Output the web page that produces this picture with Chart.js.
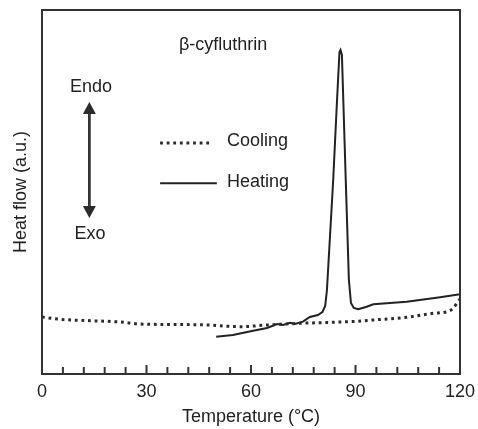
<!DOCTYPE html>
<html>
<head>
<meta charset="utf-8">
<script src="https://cdn.jsdelivr.net/npm/chart.js@4"></script>
<style>
  html, body { margin: 0; padding: 0; background: #fff; }
  #wrap { width: 478px; height: 429px; position: relative; }
</style>
</head>
<body>
<div id="wrap"><canvas id="dsc"></canvas></div>
<script>
// DSC trace of beta-cyfluthrin, heat flow in arbitrary units
const coolingTemp = [0, 5.2, 13.8, 22.4, 28.1, 38, 47.4, 52, 57, 64.6, 74.1, 83.5, 90.4, 95, 104.8, 112.3, 116.3, 118, 119.4, 120];
const coolingFlow = [57, 54.7, 53.3, 52, 50, 49.5, 49, 48, 47.3, 49, 50.7, 51.7, 52.7, 54, 56.7, 60.7, 62.3, 65.7, 72.3, 74.7];

const heatingTemp = [50, 54.8, 60.6, 64.6, 67.5, 69.2, 71.2, 72.6, 74.9, 76.9, 79.2, 80.5, 81.3, 81.8, 83.6, 84.7, 85.4, 85.7, 86.1, 87.2, 88.1, 88.7, 89.5, 90.8, 93.2, 95.1, 104.7, 114.3, 120];
const heatingFlow = [37.3, 39, 43.3, 46, 50, 49, 51.3, 50, 52.3, 57, 59, 62, 68, 84, 194, 274, 322, 324, 319, 194, 94, 71, 66, 64.7, 67.3, 69.7, 72.3, 76.7, 79.7];

const xTicks = [0, 30, 60, 90, 120];
const minorStep = 6;

const FONT = "'Liberation Sans', Arial, sans-serif";
const INK = '#222';

function pairs(xs, ys) {
    return xs.map((x, i) => ({ x: x, y: ys[i] }));
}

// frame, inward tick marks and the in-plot annotations
const decorations = {
    id: 'decorations',
    afterDraw(chart) {
        const ctx = chart.ctx;
        const area = chart.chartArea;
        const xs = chart.scales.x;
        const ys = chart.scales.y;
        ctx.save();

        // inward ticks on the bottom axis
        ctx.strokeStyle = '#333';
        ctx.lineWidth = 2;
        for (let v = 0; v <= 120; v += minorStep) {
            if (v === 0 || v === 120) continue;
            const px = xs.getPixelForValue(v);
            const len = xTicks.includes(v) ? 9 : 7;
            ctx.beginPath();
            ctx.moveTo(px, area.bottom);
            ctx.lineTo(px, area.bottom - len);
            ctx.stroke();
        }

        // frame
        ctx.strokeStyle = '#333';
        ctx.lineWidth = 2;
        ctx.strokeRect(area.left, area.top, area.right - area.left, area.bottom - area.top);

        ctx.fillStyle = INK;
        ctx.font = '18px ' + FONT;
        ctx.textBaseline = 'middle';

        // sample name
        ctx.textAlign = 'center';
        ctx.fillText('β-cyfluthrin', xs.getPixelForValue(52), ys.getPixelForValue(329));

        // endo / exo arrow
        ctx.fillText('Endo', xs.getPixelForValue(14.1), ys.getPixelForValue(287));
        ctx.fillText('Exo', xs.getPixelForValue(13.8), ys.getPixelForValue(140));
        const ax = xs.getPixelForValue(13.6);
        const topTip = ys.getPixelForValue(272);
        const botTip = ys.getPixelForValue(156);
        ctx.strokeStyle = '#333';
        ctx.lineWidth = 2.7;
        ctx.beginPath();
        ctx.moveTo(ax, topTip + 8);
        ctx.lineTo(ax, botTip - 8);
        ctx.stroke();
        ctx.fillStyle = '#2a2a2a';
        ctx.beginPath();
        ctx.moveTo(ax, topTip);
        ctx.lineTo(ax - 6.5, topTip + 12);
        ctx.lineTo(ax + 6.5, topTip + 12);
        ctx.closePath();
        ctx.fill();
        ctx.beginPath();
        ctx.moveTo(ax, botTip);
        ctx.lineTo(ax - 6.5, botTip - 12);
        ctx.lineTo(ax + 6.5, botTip - 12);
        ctx.closePath();
        ctx.fill();

        // legend
        ctx.strokeStyle = '#2a2a2a';
        ctx.lineWidth = 3;
        ctx.setLineDash([2.8, 3.8]);
        let ly = ys.getPixelForValue(231);
        ctx.beginPath();
        ctx.moveTo(xs.getPixelForValue(33.9), ly);
        ctx.lineTo(xs.getPixelForValue(48.8), ly);
        ctx.stroke();
        ctx.setLineDash([]);
        ctx.strokeStyle = INK;
        ctx.lineWidth = 2;
        ly = ys.getPixelForValue(190.7);
        ctx.beginPath();
        ctx.moveTo(xs.getPixelForValue(33.9), ly);
        ctx.lineTo(xs.getPixelForValue(50.2), ly);
        ctx.stroke();

        ctx.fillStyle = INK;
        ctx.textAlign = 'left';
        ctx.fillText('Cooling', xs.getPixelForValue(53.1), ys.getPixelForValue(233));
        ctx.fillText('Heating', xs.getPixelForValue(53.1), ys.getPixelForValue(192));

        ctx.restore();
    }
};

new Chart(document.getElementById('dsc'), {
    type: 'line',
    data: {
        datasets: [
            {
                label: 'Cooling',
                data: pairs(coolingTemp, coolingFlow),
                borderColor: '#2a2a2a',
                borderWidth: 3,
                borderDash: [2.8, 3.8],
                borderCapStyle: 'butt',
                cubicInterpolationMode: 'monotone',
                pointRadius: 0,
                fill: false
            },
            {
                label: 'Heating',
                data: pairs(heatingTemp, heatingFlow),
                borderColor: INK,
                borderWidth: 2,
                tension: 0,
                pointRadius: 0,
                fill: false
            }
        ]
    },
    options: {
        responsive: true,
        maintainAspectRatio: false,
        animation: false,
        layout: { padding: { top: 10, right: 18, bottom: 0, left: 0 } },
        plugins: {
            legend: { display: false },
            tooltip: { enabled: false }
        },
        scales: {
            x: {
                type: 'linear',
                min: 0,
                max: 120,
                afterBuildTicks: (s) => { s.ticks = xTicks.map(v => ({ value: v })); },
                afterFit: (s) => {
                    s.height = 55;
                    s.paddingLeft = 0;
                    s.paddingRight = 0;
                },
                grid: { display: false, drawTicks: false },
                border: { display: false },
                ticks: {
                    padding: 7,
                    color: INK,
                    font: { family: FONT, size: 18 },
                    maxRotation: 0
                },
                title: {
                    display: true,
                    text: 'Temperature (°C)',
                    color: INK,
                    font: { family: FONT, size: 18 },
                    padding: { top: 0, bottom: 1 }
                }
            },
            y: {
                type: 'linear',
                min: 0,
                max: 364,
                afterFit: (s) => { s.width = 42; },
                grid: { display: false, drawTicks: false },
                border: { display: false },
                ticks: { display: false },
                title: {
                    display: true,
                    text: 'Heat flow (a.u.)',
                    color: INK,
                    font: { family: FONT, size: 18 },
                    padding: { top: 10, bottom: 0 }
                }
            }
        }
    },
    plugins: [decorations]
});
</script>
</body>
</html>
